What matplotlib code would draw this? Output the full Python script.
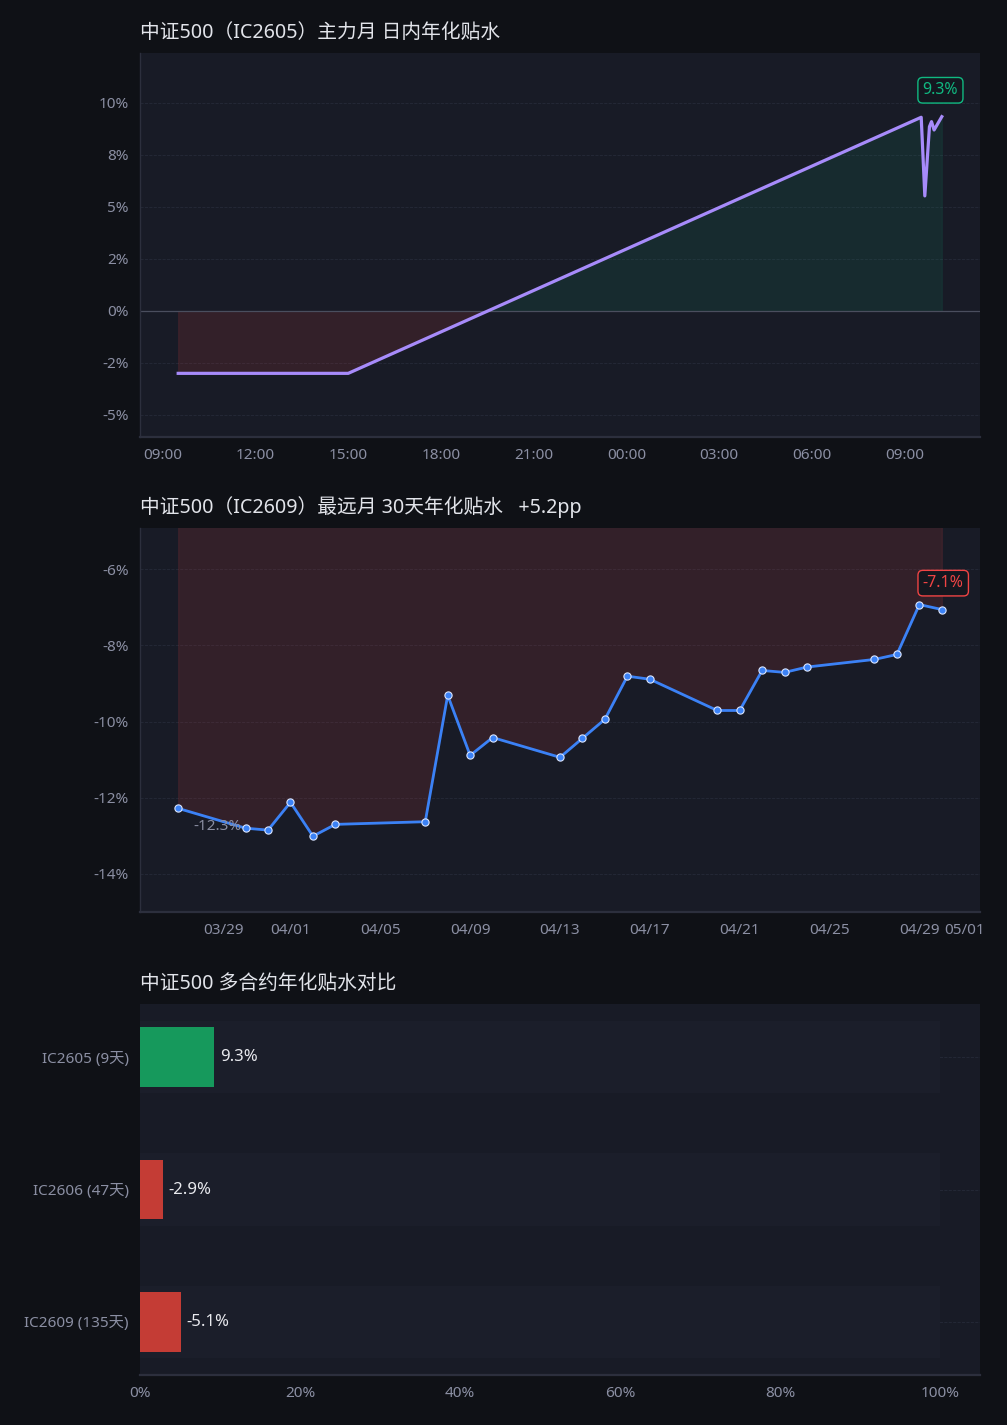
import matplotlib
matplotlib.use("Agg")
import matplotlib.pyplot as plt
import matplotlib.dates as mdates
import pandas as pd
import numpy as np
from matplotlib.ticker import FuncFormatter, MultipleLocator

plt.rcParams['font.family'] = ['Noto Sans', 'Noto Sans CJK SC', 'DejaVu Sans']

# ---------------- data ----------------
intraday_times = ["2026-04-29 09:30", "2026-04-29 15:00",
                  "2026-04-30 09:32", "2026-04-30 09:39", "2026-04-30 09:48",
                  "2026-04-30 09:52", "2026-04-30 09:57", "2026-04-30 10:12"]
intraday_vals = [-3.0, -3.0, 9.31, 5.53, 8.86, 9.10, 8.70, 9.34]
intraday_label = "9.3%"

far_dates = ["2026-03-27", "2026-03-30", "2026-03-31", "2026-04-01", "2026-04-02",
             "2026-04-03", "2026-04-07", "2026-04-08", "2026-04-09", "2026-04-10",
             "2026-04-13", "2026-04-14", "2026-04-15", "2026-04-16", "2026-04-17",
             "2026-04-20", "2026-04-21", "2026-04-22", "2026-04-23", "2026-04-24",
             "2026-04-27", "2026-04-28", "2026-04-29", "2026-04-30"]
far_vals = [-12.28, -12.80, -12.85, -12.12, -13.01, -12.70, -12.63, -9.31, -10.89, -10.42,
            -10.94, -10.44, -9.94, -8.81, -8.89, -9.71, -9.71, -8.66, -8.71, -8.57,
            -8.37, -8.24, -6.93, -7.06]
far_start_label = "-12.3%"
far_end_label = "-7.1%"

contracts = ["IC2605 (9天)", "IC2606 (47天)", "IC2609 (135天)"]
contract_vals = [9.3, -2.9, -5.1]

titles = ["中证500（IC2605）主力月 日内年化贴水",
          "中证500（IC2609）最远月 30天年化贴水   +5.2pp",
          "中证500 多合约年化贴水对比"]

# ---------------- style ----------------
FIG_BG = "#0f1116"
AX_BG = "#181b26"
TRACK = "#1b1e2a"
GRID = "#262a38"
SPINE = "#2c2f3d"
TICK = "#8b8fa3"
TITLE = "#e2e4ea"
PURPLE = "#a78bfa"
BLUE = "#3b82f6"
GREEN = "#10b981"
GREEN_BAR = "#16995c"
RED = "#ef4444"
RED_BAR = "#c43c35"

W, H = 1007, 1425
fig = plt.figure(figsize=(W / 100, H / 100), dpi=100, facecolor=FIG_BG)


def axes_px(left, top, right, bottom):
    return fig.add_axes([left / W, 1 - bottom / H, (right - left) / W, (bottom - top) / H])


def style(ax, left_spine=True):
    ax.set_facecolor(AX_BG)
    for s in ("top", "right"):
        ax.spines[s].set_visible(False)
    ax.spines["left"].set_visible(left_spine)
    ax.spines["left"].set_color(SPINE)
    ax.spines["bottom"].set_color(SPINE)
    ax.spines["left"].set_linewidth(1.0)
    ax.spines["bottom"].set_linewidth(1.6)
    ax.tick_params(colors=TICK, labelsize=11, length=0, pad=8)
    ax.grid(axis="y", color=GRID, linestyle="--", linewidth=0.6)
    ax.set_axisbelow(True)


pct0 = FuncFormatter(lambda v, p: "{:.0f}%".format(v))

# ---------------- top: intraday ----------------
ax1 = axes_px(140, 53, 980, 437)
style(ax1)
t = pd.to_datetime(intraday_times)
v = np.array(intraday_vals)
ax1.fill_between(t, v, 0, where=v >= 0, interpolate=True, color=GREEN, alpha=0.10, linewidth=0.8)
ax1.fill_between(t, v, 0, where=v <= 0, interpolate=True, color=RED, alpha=0.13, linewidth=0.8)
ax1.axhline(0, color="#4a4e5e", linewidth=0.9)
ax1.plot(t, v, color=PURPLE, linewidth=2.3, solid_joinstyle="round")
ax1.set_ylim(-6.06, 12.4)
ax1.yaxis.set_major_locator(MultipleLocator(2.5))
ax1.yaxis.set_major_formatter(pct0)
ax1.xaxis.set_major_locator(mdates.HourLocator(byhour=range(0, 24, 3)))
ax1.xaxis.set_major_formatter(mdates.DateFormatter("%H:%M"))
ax1.annotate(intraday_label, (t[-1], v[-1]), xytext=(-1, 19), textcoords="offset points",
             ha="center", va="center", color=GREEN, fontsize=11.5,
             bbox=dict(boxstyle="round,pad=0.3", fc="#14171f", ec=GREEN, lw=1.0))
ax1.set_title(titles[0], loc="left", color=TITLE, fontsize=14.2, pad=11)

# ---------------- middle: far month ----------------
ax2 = axes_px(140, 528, 980, 912)
style(ax2)
d = pd.to_datetime(far_dates)
fv = np.array(far_vals)
ax2.fill_between(d, fv, 0, where=fv <= 0, interpolate=True, color=RED, alpha=0.13, linewidth=0.8)
ax2.plot(d, fv, color=BLUE, linewidth=2.0, marker="o", markersize=5.2,
         markerfacecolor=BLUE, markeredgecolor="#dbe6ff", markeredgewidth=0.8)
ax2.set_ylim(-15.0, -4.92)
ax2.yaxis.set_major_locator(MultipleLocator(2))
ax2.yaxis.set_major_formatter(pct0)
ax2.xaxis.set_major_locator(mdates.DayLocator(bymonthday=[1, 5, 9, 13, 17, 21, 25, 29]))
ax2.xaxis.set_major_formatter(mdates.DateFormatter("%m/%d"))
ax2.annotate(far_end_label, (d[-1], fv[-1]), xytext=(1, 19), textcoords="offset points",
             ha="center", va="center", color=RED, fontsize=11.5,
             bbox=dict(boxstyle="round,pad=0.3", fc="#14171f", ec=RED, lw=1.0))
ax2.annotate(far_start_label, (d[0], fv[0]), xytext=(11, -13), textcoords="offset points",
             ha="left", va="center", color=TICK, fontsize=11)
ax2.set_title(titles[1], loc="left", color=TITLE, fontsize=14.2, pad=11)

# ---------------- bottom: contracts ----------------
ax3 = axes_px(140, 1004, 980, 1375)
style(ax3, left_spine=False)
ypos = np.arange(len(contracts))
ax3.barh(ypos, [100] * len(contracts), height=0.55, color=TRACK, zorder=1)
colors = [GREEN_BAR if x >= 0 else RED_BAR for x in contract_vals]
ax3.barh(ypos, np.abs(contract_vals), height=0.45, color=colors, zorder=2)
for y, x in zip(ypos, contract_vals):
    ax3.text(abs(x) + 0.7, y, "{:.1f}%".format(x), va="center", ha="left",
             color="#e8e9ee", fontsize=12, zorder=3)
ax3.set_yticks(ypos)
ax3.set_yticklabels(contracts)
ax3.set_ylim(2.4, -0.4)
ax3.set_xlim(0, 105)
ax3.xaxis.set_major_locator(MultipleLocator(20))
ax3.xaxis.set_major_formatter(FuncFormatter(lambda x, p: "{:.0f}%".format(x) if x <= 100 else ""))
ax3.set_title(titles[2], loc="left", color=TITLE, fontsize=14.2, pad=11)

fig.savefig("out.png", dpi=100, facecolor=FIG_BG)
